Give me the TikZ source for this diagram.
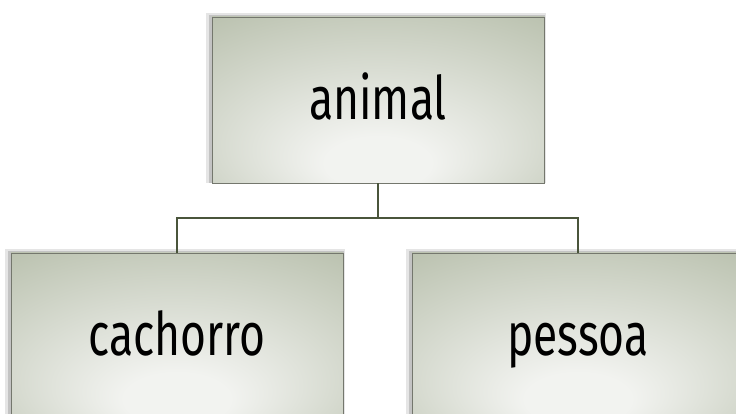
\documentclass[tikz,border=0pt]{standalone}
\usepackage{fontspec}
\setmainfont[FakeStretch=0.74]{Fira Sans}
\usetikzlibrary{positioning,shadows}

\definecolor{boxlight}{HTML}{F2F3F0}
\definecolor{boxdark}{HTML}{BCC3B1}
\definecolor{boxrim}{HTML}{74776D}
\definecolor{linkcol}{HTML}{4A553B}
\pgfdeclareradialshading{boxglow}{\pgfpoint{0bp}{-22bp}}{%
  color(0bp)=(boxlight); color(8bp)=(boxlight); color(40bp)=(boxdark); color(60bp)=(boxdark)}

\begin{document}
\begin{tikzpicture}[x=1pt, y=1pt,
		concept/.style={draw=boxrim, line width=0.8pt, shading=boxglow,
			minimum width=332pt, minimum height=166pt, inner sep=0pt,
			text height=52pt, text depth=12pt,
			font=\fontsize{60}{62}\selectfont,
			general shadow={fill=black, opacity=0.10, shadow xshift=-2pt, shadow yshift=2pt, shadow scale=1.025},
			general shadow={fill=black, opacity=0.15, shadow xshift=-1pt, shadow yshift=1pt, shadow scale=1.01}},
		link/.style={draw=linkcol, line width=2.2pt},
	]
		\useasboundingbox (0,0) rectangle (736,414);
	
		\node[concept] (animal) at (378,314) {animal};
		\node[concept] (cachorro) at (177,78) {cachorro};
		\node[concept] (pessoa) at (578,78) {pessoa};
		
		\coordinate[below=35pt of animal.south] (fork);
		\draw[link] (animal.south) -- (fork) -| (cachorro.north);
		\draw[link] (fork) -| (pessoa.north);
	\end{tikzpicture}
\end{document}
